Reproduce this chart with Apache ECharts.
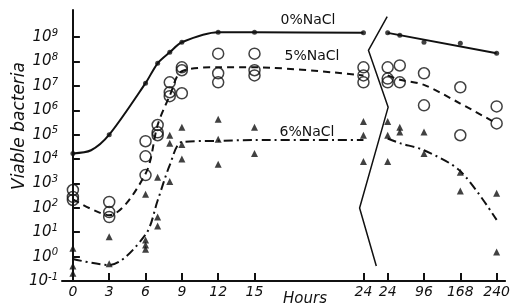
<!DOCTYPE html>
<html>
<head>
<meta charset="utf-8">
<script src="https://cdn.jsdelivr.net/npm/echarts@6/dist/echarts.min.js"></script>
<style>
html, body { margin: 0; background: #fff; }
#chart { width: 513px; height: 307px; }
</style>
</head>
<body>
<div id="chart"></div>
<script>
// x axis: 0-24 h at full scale, then (after the break) 24-240 h compressed
var tickHours = [0, 3, 6, 9, 12, 15, 24, 24, 96, 168, 240];
var tickRight = [0, 0, 0, 0, 0, 0, 0, 1, 1, 1, 1];
var decades = [0.1, 1, 10, 1e2, 1e3, 1e4, 1e5, 1e6, 1e7, 1e8, 1e9];

// 0% NaCl  [hours, viable bacteria]
var nacl0Left  = [[0, 1.7e4], [3, 1.0e5], [6, 1.3e7], [7, 8.5e7], [8, 2.4e8], [9, 6.2e8], [12, 1.6e9], [15, 1.6e9], [24, 1.5e9]];
var nacl0Right = [[24, 1.5e9], [48, 1.2e9], [96, 6.2e8], [168, 5.6e8], [240, 2.2e8]];
var nacl0CurveL = [[0, 1.7e4], [1.5, 2.3e4], [3, 1.0e5], [6, 1.3e7], [7, 8.5e7], [8, 2.4e8], [9, 6.2e8], [12, 1.6e9], [15, 1.6e9], [24, 1.5e9]];
var nacl0CurveR = [[24, 1.5e9], [240, 2.2e8]];

// 5% NaCl
var nacl5Left = [[0, 540], [0, 280], [0, 210], [3, 174], [3, 67], [3, 42],
  [6, 5.4e4], [6, 1.3e4], [6, 2.2e3], [7, 2.5e5], [7, 1.25e5], [7, 9.5e4],
  [8, 1.4e7], [8, 5.5e6], [8, 3.8e6], [9, 5.8e7], [9, 4.4e7], [9, 5e6],
  [12, 2.1e8], [12, 3.3e7], [12, 1.4e7], [15, 2.1e8], [15, 4.4e7], [15, 2.7e7],
  [24, 5.8e7], [24, 2.7e7], [24, 1.4e7]];
var nacl5Right = [[24, 5.8e7], [24, 2.0e7], [24, 1.4e7], [48, 6.9e7], [48, 1.4e7],
  [96, 3.3e7], [96, 1.6e6], [168, 8.8e6], [168, 9.5e4], [240, 1.45e6], [240, 2.9e5]];
var nacl5CurveL = [[0, 224], [3, 50], [6, 2.5e3], [7, 2.5e5], [8, 4e6], [9, 4e7], [12, 5.8e7], [15, 5.8e7], [24, 2.7e7]];
var nacl5CurveR = [[24, 2.7e7], [48, 1.8e7], [96, 1.1e7], [168, 1.9e6], [240, 2.9e5]];

// 6% NaCl
var nacl6Left = [[0, 2.2], [0, 0.41], [0, 0.21], [3, 6.6], [3, 0.51],
  [6, 360], [6, 4.8], [6, 3], [6, 2], [7, 1.8e3], [7, 42], [7, 18],
  [8, 9.5e4], [8, 4.5e4], [8, 1.2e3], [9, 2e5], [9, 4e4], [9, 1e4],
  [12, 4.3e5], [12, 6.5e4], [12, 6.2e3], [15, 2e5], [15, 1.7e4],
  [24, 3.5e5], [24, 9.5e4], [24, 8e3]];
var nacl6Right = [[24, 3.5e5], [24, 9.5e4], [24, 8e3], [48, 2e5], [48, 1.3e5],
  [96, 1.3e5], [96, 1.7e4], [168, 2.9e3], [168, 490], [240, 400], [240, 1.55]];
var nacl6CurveL = [[0, 0.8], [3, 0.45], [6, 8], [7, 200], [8, 5.6e3], [9, 5e4], [12, 5.6e4], [15, 6e4], [24, 6e4]];
var nacl6CurveR = [[24, 7e4], [48, 4.5e4], [96, 2.3e4], [168, 3.2e3], [240, 32]];

// axis break zigzag [hours(left scale), value]
var breakMark = [[25.96, 7e9], [24.41, 2.9e8], [26.04, 1.35e6], [23.68, 98], [25.06, 0.41]];

function hx(h, right) { return right ? 26 + (h - 24) / 24 : h; }
function onAxis(arr, right) { return arr.map(function (d) { return [hx(d[0], right), d[1]]; }); }
var xTicks = tickHours.map(function (h, i) { return hx(h, tickRight[i]); });

var ink = '#111';
var font = 'DejaVu Sans';

function curve(data, dash, smooth) {
  return {
    type: 'line', data: data, showSymbol: false, smooth: smooth, silent: true,
    lineStyle: { color: ink, width: 2, type: dash }, z: 2
  };
}

var option = {
  animation: false,
  backgroundColor: '#fff',
  grid: { left: 62, right: 1, top: 10, bottom: 26 },
  xAxis: {
    type: 'value', min: -0.9, max: 35.7,
    axisLine: { lineStyle: { color: ink, width: 2 } },
    axisTick: { inside: true, length: 8, customValues: xTicks, lineStyle: { color: ink, width: 2 } },
    axisLabel: {
      customValues: xTicks, margin: 4, color: ink, fontSize: 14, fontStyle: 'italic', fontFamily: font,
      formatter: function (v) {
        for (var i = 0; i < xTicks.length; i++) if (Math.abs(xTicks[i] - v) < 1e-6) return String(tickHours[i]);
        return '';
      }
    },
    splitLine: { show: false }
  },
  yAxis: {
    type: 'log', logBase: 10, min: 0.1, max: 1.3e10,
    axisLine: { show: true, lineStyle: { color: ink, width: 2 } },
    axisTick: { show: true, inside: true, length: 7, customValues: decades, lineStyle: { color: ink, width: 2 } },
    axisLabel: {
      customValues: decades, margin: 4, color: ink,
      formatter: function (v) { return '{b|10}{s|' + Math.round(Math.log10(v)) + '}'; },
      rich: {
        b: { fontSize: 15, fontStyle: 'italic', fontFamily: font, color: ink, lineHeight: 18 },
        s: { fontSize: 10, fontStyle: 'italic', fontFamily: font, color: ink, verticalAlign: 'top', lineHeight: 10 }
      }
    },
    splitLine: { show: false }
  },
  series: [
    curve(onAxis(nacl0CurveL, 0), 'solid', 0.3),
    curve(onAxis(nacl0CurveR, 1), 'solid', false),
    curve(onAxis(nacl5CurveL, 0), [7, 5], 0.3),
    curve(onAxis(nacl5CurveR, 1), [7, 5], 0.3),
    curve(onAxis(nacl6CurveL, 0), [9, 4, 2, 4], 0.3),
    curve(onAxis(nacl6CurveR, 1), [9, 4, 2, 4], 0.3),
    { type: 'line', data: breakMark, showSymbol: false, silent: true, lineStyle: { color: ink, width: 1.5 } },
    { type: 'scatter', data: onAxis(nacl0Left, 0).concat(onAxis(nacl0Right, 1)), symbol: 'circle', symbolSize: 5,
      itemStyle: { color: ink }, z: 3 },
    { type: 'scatter', data: onAxis(nacl5Left, 0).concat(onAxis(nacl5Right, 1)), symbol: 'circle', symbolSize: 11,
      itemStyle: { color: 'rgba(0,0,0,0)', borderColor: ink, borderWidth: 1.5 }, z: 3 },
    { type: 'scatter', data: onAxis(nacl6Left, 0).concat(onAxis(nacl6Right, 1)), symbol: 'triangle', symbolSize: 7,
      itemStyle: { color: ink }, z: 3 }
  ],
  graphic: [
    { type: 'text', x: 20, y: 126, rotation: Math.PI / 2,
      style: { text: 'Viable bacteria', fontSize: 17, fontStyle: 'italic', fontFamily: font, fill: ink, textAlign: 'center', textVerticalAlign: 'middle' } },
    { type: 'text', x: 305, y: 299,
      style: { text: 'Hours', fontSize: 15, fontStyle: 'italic', fontFamily: font, fill: ink, textAlign: 'center', textVerticalAlign: 'middle' } },
    { type: 'text', x: 308, y: 20,
      style: { text: '0%NaCl', fontSize: 14, fontFamily: font, fill: ink, textAlign: 'center', textVerticalAlign: 'middle' } },
    { type: 'text', x: 312, y: 56,
      style: { text: '5%NaCl', fontSize: 14, fontFamily: font, fill: ink, textAlign: 'center', textVerticalAlign: 'middle' } },
    { type: 'text', x: 307, y: 132,
      style: { text: '6%NaCl', fontSize: 14, fontFamily: font, fill: ink, textAlign: 'center', textVerticalAlign: 'middle' } }
  ]
};

echarts.init(document.getElementById('chart')).setOption(option);
</script>
</body>
</html>
